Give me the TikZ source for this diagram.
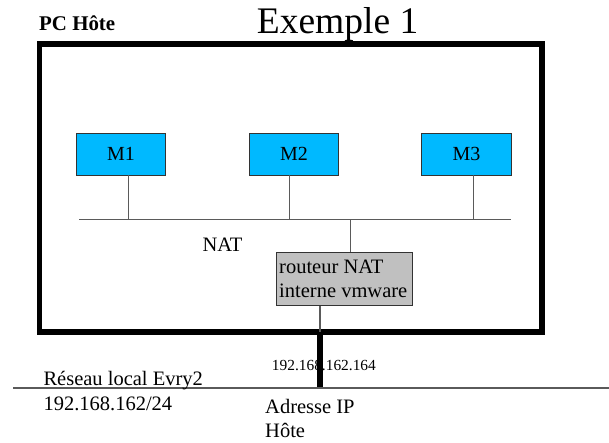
\documentclass[tikz,border=0pt]{standalone}
\usepackage{fontspec}
\setmainfont{Liberation Serif}
\definecolor{mcyan}{RGB}{0,185,255}
\definecolor{rgray}{RGB}{192,192,192}
\definecolor{wire}{RGB}{90,90,90}
\begin{document}
\begin{tikzpicture}[x=1pt,y=-1pt,
  txt/.style={inner sep=0pt,anchor=base west,font=\fontsize{20.5}{24}\selectfont},
  vmbox/.style={draw=black!80,line width=0.9pt,fill=mcyan,minimum width=89.5pt,minimum height=42pt,inner sep=0pt,font=\fontsize{20}{24}\selectfont},
  rbox/.style={draw=black!80,line width=0.9pt,fill=rgray,minimum width=136pt,minimum height=53.4pt,inner sep=0pt},
  thin/.style={draw=wire,line width=1.1pt},
  thick/.style={draw=black,line width=5.7pt}]
\useasboundingbox (0,0) rectangle (609,442);
% host box
\draw[thick] (39.5,43.8) rectangle (541.7,332);
\node[inner sep=0pt,anchor=base west,font=\fontsize{20.9}{24}\selectfont\bfseries] (pc) at (39,30) {PC Hôte};
\node[inner sep=0pt,anchor=base west,font=\fontsize{37.5}{44}\selectfont] (title) at (256.7,33.3) {Exemple 1};
% VMs
\node[vmbox] (m1) at (120.9,154) {M1};
\node[vmbox] (m2) at (294,154) {M2};
\node[vmbox] (m3) at (466.4,154) {M3};
% bus
\coordinate (busl) at (79.3,219.3);
\coordinate (busr) at (511,219.3);
\coordinate (b1) at (128.7,219.3);
\coordinate (b2) at (289.5,219.3);
\coordinate (b3) at (473.7,219.3);
\coordinate (b4) at (350.5,219.3);
\draw[thin] (busl) -- (busr);
\draw[thin] (b1) -- (b1 |- m1.south);
\draw[thin] (b2) -- (b2 |- m2.south);
\draw[thin] (b3) -- (b3 |- m3.south);
\node[txt] (nat) at (202.3,251) {NAT};
% router
\node[rbox] (r) at (344.7,279) {};
\node[txt] (r1) at (279,273.3) {routeur NAT};
\node[txt] (r2) at (279,297.7) {interne vmware};
\draw[thin] (b4) -- (b4 |- r.north);
\coordinate (rb) at (320,332);
\coordinate (lanp) at (320,388);
\draw[thin] (rb |- r.south) -- (rb);
\draw[thick] (rb) -- (lanp);
% LAN
\coordinate (lanl) at (13.3,388);
\coordinate (lanr) at (609,388);
\draw[thin] (lanl) -- (lanr);
\node[inner sep=0pt,anchor=base west,font=\fontsize{15.4}{18}\selectfont] (ip) at (271.7,370.7) {192.168.162.164};
\node[txt] (l1) at (43.3,385) {Réseau local Evry2};
\node[txt] (l2) at (43.3,410) {192.168.162/24};
\node[txt] (a1) at (265,413) {Adresse IP};
\node[txt] (a2) at (265,437) {Hôte};
\end{tikzpicture}
\end{document}
